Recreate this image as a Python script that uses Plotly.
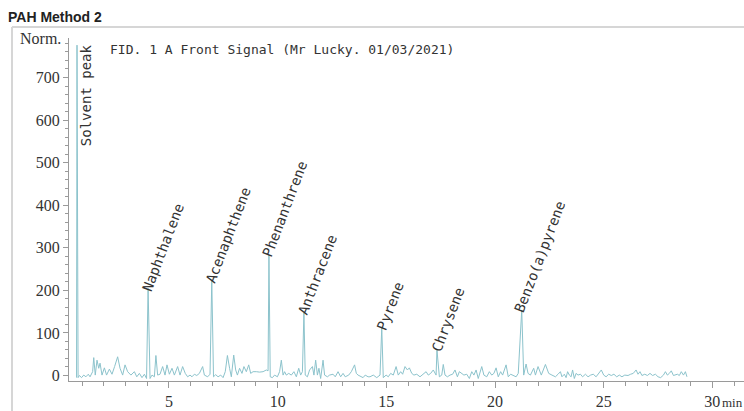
import plotly.graph_objects as go

# ---------------- data ----------------
solvent_time = 0.77
solvent_height = 776

peak_names = ["Naphthalene", "Acenaphthene", "Phenanthrene", "Anthracene",
              "Pyrene", "Chrysene", "Benzo(a)pyrene"]
peak_times = [4.04, 6.97, 9.60, 11.21, 14.79, 17.33, 21.23]
peak_heights = [205, 224, 283, 147, 112, 60, 154]

noise_times = [0.75, 0.82, 0.88, 0.98, 1.08, 1.18, 1.29, 1.37, 1.49, 1.54, 1.61, 1.69, 1.77, 1.83,
               1.92, 2.03, 2.13, 2.26, 2.38, 2.50, 2.64, 2.75, 2.87, 2.98, 3.10, 3.25, 3.41, 3.52,
               3.64, 3.76, 3.87, 3.97, 4.13, 4.22, 4.33, 4.40, 4.48, 4.59, 4.71, 4.82, 4.91, 5.02,
               5.14, 5.25, 5.40, 5.51, 5.63, 5.75, 5.86, 5.97, 6.06, 6.17, 6.28, 6.40, 6.55, 6.63,
               6.78, 6.89, 7.05, 7.15, 7.26, 7.38, 7.49, 7.59, 7.69, 7.79, 7.87, 7.98, 8.07, 8.15,
               8.25, 8.36, 8.45, 8.56, 8.67, 8.76, 8.87, 9.02, 9.17, 9.33, 9.48, 9.56, 9.66, 9.76,
               9.86, 9.99, 10.09, 10.17, 10.25, 10.32, 10.40, 10.51, 10.63, 10.75, 10.86, 10.97,
               11.06, 11.14, 11.27, 11.37, 11.47, 11.60, 11.67, 11.75, 11.83, 11.90, 11.98, 12.09,
               12.16, 12.29, 12.39, 12.55, 12.65, 12.78, 12.90, 13.01, 13.11, 13.27, 13.39, 13.54,
               13.62, 13.70, 13.82, 13.93, 14.03, 14.16, 14.25, 14.40, 14.56, 14.71, 14.86, 14.99,
               15.09, 15.20, 15.32, 15.45, 15.55, 15.66, 15.75, 15.86, 15.97, 16.06, 16.17, 16.27,
               16.40, 16.55, 16.70, 16.83, 16.93, 17.04, 17.16, 17.29, 17.44, 17.55, 17.62, 17.70,
               17.81, 17.93, 18.05, 18.16, 18.27, 18.36, 18.47, 18.57, 18.70, 18.82, 18.93, 19.03,
               19.13, 19.23, 19.39, 19.49, 19.62, 19.74, 19.85, 19.95, 20.05, 20.15, 20.26, 20.35,
               20.51, 20.61, 20.72, 20.84, 20.97, 21.07, 21.32, 21.43, 21.52, 21.63, 21.78, 21.86,
               21.98, 22.13, 22.32, 22.47, 22.62, 22.78, 22.90, 23.01, 23.08, 23.19, 23.27, 23.34,
               23.42, 23.50, 23.57, 23.65, 23.73, 23.82, 23.93, 24.03, 24.16, 24.28, 24.40, 24.52,
               24.65, 24.77, 24.89, 25.00, 25.11, 25.23, 25.35, 25.47, 25.60, 25.72, 25.84, 25.97,
               26.12, 26.24, 26.36, 26.49, 26.58, 26.67, 26.76, 26.89, 27.01, 27.13, 27.25, 27.38,
               27.50, 27.62, 27.75, 27.84, 27.93, 28.02, 28.11, 28.21, 28.30, 28.39, 28.48, 28.57,
               28.67, 28.76, 28.83]
noise_signal = [-5, -5, 0, -5, 1, -3, 3, -3, 9, 42, 1, 36, 17, 29,
                1, 18, 1, 15, 3, 21, 44, 17, 1, 25, 9, 1, 9, -3,
                5, -5, 3, -7, -7, 1, -3, 47, 1, 3, 21, 1, 25, 3,
                17, 1, 21, 1, 21, 5, -3, 1, -3, 3, 0, 5, 21, 1,
                -3, 3, -3, 2, -3, 1, -5, 9, 47, 17, -3, 48, 13, 1,
                17, 5, 21, 9, 25, 5, 9, 9, 8, 9, 13, 11, -3, -5,
                1, -3, 9, 36, 1, 9, 1, 5, 1, 9, -3, 17,
                1, 9, 1, -3, 13, 21, 1, 36, 1, 17, -7, 36,
                1, -3, 1, 3, -3, 9, -3, 5, -3, 1, 9, 25,
                5, 1, -3, -5, 1, -3, -3, 1, -5, 1, -5, 1,
                -3, 5, 1, 21, 1, 9, 3, 21, 13, 18, 5, 1,
                3, -3, 3, 9, 1, 5, 13, 1, -3, 1, 26, 1,
                -3, 1, 3, 13, -3, 9, 5, 1, 3, -7, 9, 1,
                13, -7, 21, 1, -3, 9, 1, 5, 18, -3, 9, 1,
                25, -3, 3, 1, -3, 5, 1, 27, 5, 1, 17, 1,
                21, 1, 26, 5, 1, -3, 3, 9, -3, 3, -5, 9,
                1, -3, 13, -7, 5, 1, 3, -3, 3, -3, 1, 3,
                -3, 5, 13, 1, -3, 3, 0, 3, -3, 1, -3, 1,
                0, 3, 5, 13, 3, 9, 0, 3, 0, 5, 0, 3,
                -3, -5, 1, 9, 1, 5, 11, 0, 1, 3, 0, 9,
                1, 9, -3]

x_ticks = [5, 10, 15, 20, 25, 30]
y_ticks = [0, 100, 200, 300, 400, 500, 600, 700]

# ---------------- build chromatogram ----------------
pts = list(zip(noise_times, noise_signal))
pts += list(zip(peak_times, peak_heights))
pts.append((solvent_time, solvent_height))
pts.sort(key=lambda p: p[0])
t_all = [p[0] for p in pts]
s_all = [p[1] for p in pts]

W, H = 744, 411
ml, mr, mt, mb = 69, 0, 38, 30
pw, ph = W - ml - mr, H - mt - mb

fig = go.Figure()
fig.add_trace(go.Scatter(x=t_all, y=s_all, mode="lines",
                         line=dict(color="#8cc3cc", width=1),
                         hoverinfo="skip", showlegend=False))

mono = "DejaVu Sans Mono"
serif = "Liberation Serif, Times New Roman, serif"
annotations = []
fs = 14
for name, t, h in zip(peak_names, peak_times, peak_heights):
    L = len(name) * 0.602 * fs
    annotations.append(dict(x=t, y=h, xref="x", yref="y", text=name, showarrow=False,
                            textangle=-69, xanchor="center", yanchor="middle",
                            xshift=0.15 * L + 1, yshift=0.47 * L - 2,
                            font=dict(family=mono, size=fs, color="#333333")))
# solvent label
annotations.append(dict(x=solvent_time, y=534, xref="x", yref="y", text="Solvent peak",
                        showarrow=False, textangle=-90, xanchor="left", yanchor="bottom",
                        xshift=-1, font=dict(family=mono, size=fs, color="#333333")))
# signal title
annotations.append(dict(x=(108 - ml) / pw, y=(H - mb - 50) / ph, xref="paper", yref="paper",
                        text="FID. 1 A Front Signal (Mr Lucky. 01/03/2021)", showarrow=False,
                        xanchor="left", yanchor="middle",
                        font=dict(family=mono, size=13, color="#333333")))
# Norm.
annotations.append(dict(x=(63 - ml) / pw, y=(H - mb - 38) / ph, xref="paper", yref="paper",
                        text="Norm.", showarrow=False, xanchor="right", yanchor="middle",
                        font=dict(family=serif, size=16, color="#333333")))
# min unit
annotations.append(dict(x=30, y=0, xref="x", yref="paper", text="min", showarrow=False,
                        xanchor="left", yanchor="top", xshift=8, yshift=-12,
                        font=dict(family=serif, size=13, color="#333333")))

frame_x = (12 - ml) / pw
frame_top = (H - mb - 27) / ph
frame_bot = (H - mb - H) / ph
shapes = [
    dict(type="line", xref="paper", yref="paper", x0=frame_x, x1=frame_x,
         y0=frame_bot, y1=frame_top, line=dict(color="#d6d6d6", width=2)),
    dict(type="line", xref="paper", yref="paper", x0=frame_x, x1=1.05,
         y0=frame_top, y1=frame_top, line=dict(color="#d6d6d6", width=2)),
]

fig.update_layout(
    width=W, height=H, autosize=False,
    margin=dict(l=ml, r=mr, t=mt, b=mb),
    paper_bgcolor="white", plot_bgcolor="white",
    title=dict(text="<b>PAH Method 2</b>", x=8 / W, xanchor="left", xref="container",
               y=1 - 17 / H, yanchor="middle", yref="container",
               font=dict(family="Liberation Sans, Arial, sans-serif", size=14, color="#222222")),
    annotations=annotations, shapes=shapes,
)

axis_col = "#9a9a9a"
fig.update_xaxes(range=[0.402, 31.455], showline=True, linecolor=axis_col, linewidth=1,
                 ticks="outside", ticklen=6, tickcolor=axis_col, tickvals=x_ticks,
                 minor=dict(ticks="outside", ticklen=4, dtick=1, tick0=0, tickcolor=axis_col),
                 showgrid=False, zeroline=False,
                 tickfont=dict(family=serif, size=16, color="#333333"))
fig.update_yaxes(range=[-12.9, 792.8], showline=True, linecolor=axis_col, linewidth=1,
                 ticks="outside", ticklen=5, tickcolor=axis_col, tickvals=y_ticks,
                 minor=dict(ticks="outside", ticklen=3, dtick=20, tick0=0, tickcolor=axis_col),
                 showgrid=False, zeroline=False,
                 tickfont=dict(family=serif, size=16, color="#333333"))

fig.write_html("out.html")
